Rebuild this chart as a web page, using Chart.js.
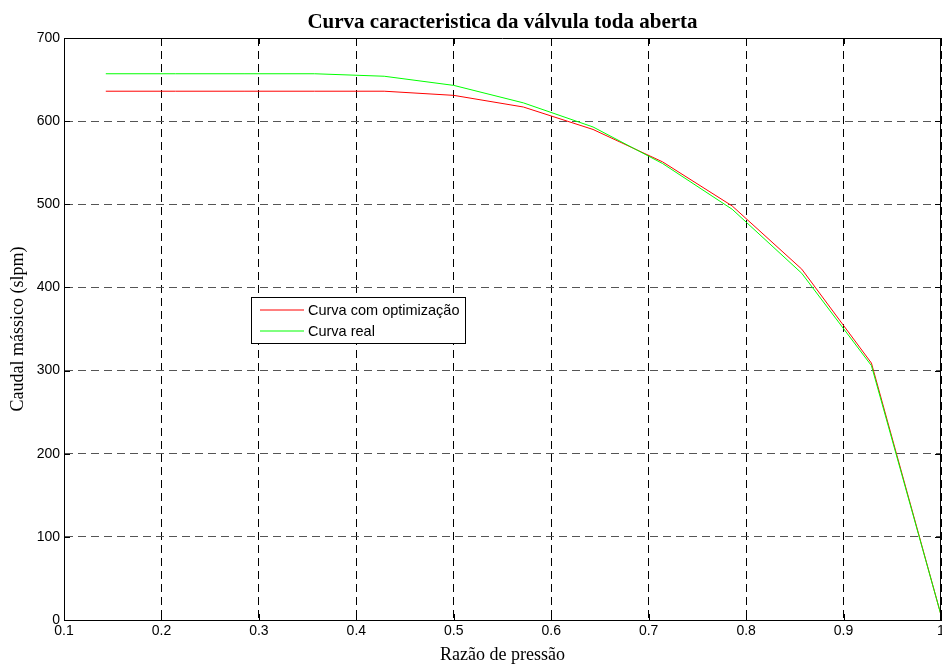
<!DOCTYPE html>
<html lang="pt">
<head>
<meta charset="UTF-8">
<title>Curva caracteristica da válvula toda aberta</title>
<script src="https://cdn.jsdelivr.net/npm/chart.js"></script>
<style>
  body { margin: 0; background: #fff; }
  canvas { display: block; }
</style>
</head>
<body>
<canvas id="curva" width="942" height="666"></canvas>
<script>
// razão de pressão (passo de 1/14)
const razao = [0.1429, 0.2143, 0.2857, 0.3571, 0.4286, 0.5, 0.5714, 0.6429, 0.7143, 0.7857, 0.8571, 0.9286, 1.0];
// caudal mássico em slpm
const curvaOptimizacao = [636, 636, 636, 636, 636, 631, 617, 590, 551, 498, 422, 309, 6];
const curvaReal        = [657, 657, 657, 657, 654, 643, 622, 593, 549, 494, 417, 306, 6];
const xTicks = [0.1, 0.2, 0.3, 0.4, 0.5, 0.6, 0.7, 0.8, 0.9, 1];
const yTicks = [0, 100, 200, 300, 400, 500, 600, 700];
const titulo = 'Curva caracteristica da válvula toda aberta';

const pontos = ys => razao.map((x, i) => ({ x: x, y: ys[i] }));

// título centrado sobre a área do gráfico
const tituloGrafico = {
  id: 'tituloGrafico',
  afterDraw(chart) {
    const { ctx, chartArea: a } = chart;
    ctx.save();
    ctx.fillStyle = '#000';
    ctx.font = 'bold 21px "Liberation Serif"';
    ctx.textAlign = 'center';
    ctx.textBaseline = 'alphabetic';
    ctx.fillText(titulo, (a.left + a.right) / 2, 28);
    ctx.restore();
  }
};

// legenda no meio do gráfico
const legendaBox = {
  id: 'legendaBox',
  afterDatasetsDraw(chart) {
    const ctx = chart.ctx;
    const x = 251, y = 297, w = 214, h = 46;
    ctx.save();
    ctx.fillStyle = '#fff';
    ctx.fillRect(x, y, w, h);
    ctx.strokeStyle = '#000';
    ctx.lineWidth = 1;
    ctx.strokeRect(x + 0.5, y + 0.5, w, h);
    ctx.font = '14.5px "Liberation Sans"';
    ctx.textBaseline = 'middle';
    chart.data.datasets.forEach((ds, i) => {
      const ly = y + 13 + i * 21;
      ctx.strokeStyle = ds.borderColor;
      ctx.beginPath();
      ctx.moveTo(x + 9, ly);
      ctx.lineTo(x + 53, ly);
      ctx.stroke();
      ctx.fillStyle = '#000';
      ctx.fillText(ds.label, x + 57, ly + 1);
    });
    ctx.restore();
  }
};

// moldura completa e marcas para dentro
const moldura = {
  id: 'moldura',
  afterDraw(chart) {
    const { ctx, chartArea: a, scales } = chart;
    const t = 6;
    ctx.save();
    ctx.strokeStyle = '#000';
    ctx.lineWidth = 1;
    ctx.beginPath();
    ctx.moveTo(a.left, a.top + 0.5);
    ctx.lineTo(a.right, a.top + 0.5);
    ctx.moveTo(a.right - 0.5, a.top);
    ctx.lineTo(a.right - 0.5, a.bottom);
    scales.x.ticks.forEach(tk => {
      const px = Math.round(scales.x.getPixelForValue(tk.value)) + 0.5;
      ctx.moveTo(px, a.bottom); ctx.lineTo(px, a.bottom - t);
      ctx.moveTo(px, a.top); ctx.lineTo(px, a.top + t);
    });
    scales.y.ticks.forEach(tk => {
      const py = Math.round(scales.y.getPixelForValue(tk.value)) + 0.5;
      ctx.moveTo(a.left, py); ctx.lineTo(a.left + t, py);
      ctx.moveTo(a.right, py); ctx.lineTo(a.right - t, py);
    });
    ctx.stroke();
    ctx.restore();
  }
};

new Chart(document.getElementById('curva'), {
  type: 'line',
  data: {
    datasets: [
      { label: 'Curva com optimização', data: pontos(curvaOptimizacao), borderColor: '#ff0000', order: 1 },
      { label: 'Curva real', data: pontos(curvaReal), borderColor: '#00ff00', order: 0 }
    ]
  },
  options: {
    responsive: false,
    animation: false,
    devicePixelRatio: 1,
    layout: { padding: { top: 38, left: 0, right: 1, bottom: 0 } },
    elements: {
      line: { borderWidth: 1, tension: 0, fill: false },
      point: { radius: 0, hoverRadius: 0 }
    },
    plugins: {
      legend: { display: false },
      tooltip: { enabled: false },
      title: { display: false }
    },
    scales: {
      x: {
        type: 'linear',
        min: 0.1,
        max: 1,
        afterBuildTicks: s => { s.ticks = xTicks.map(v => ({ value: v })); },
        afterFit: s => { s.height = 46; s.paddingLeft = 0; s.paddingRight = 0; },
        ticks: {
          color: '#000',
          padding: 3,
          maxRotation: 0,
          autoSkip: false,
          font: { family: 'Liberation Sans', size: 14 },
          callback: v => String(+v.toFixed(1))
        },
        grid: { color: '#000', lineWidth: 1, drawTicks: false },
        border: { display: true, color: '#000', width: 1, dash: [8, 5] },
        title: {
          display: true,
          text: 'Razão de pressão',
          color: '#000',
          font: { family: 'Liberation Serif', size: 18 },
          padding: { top: 0, bottom: 0 }
        }
      },
      y: {
        min: 0,
        max: 700,
        afterBuildTicks: s => { s.ticks = yTicks.map(v => ({ value: v })); },
        afterFit: s => { s.width = 64; s.paddingTop = 0; s.paddingBottom = 0; },
        ticks: {
          color: '#000',
          padding: 4,
          font: { family: 'Liberation Sans', size: 14 }
        },
        grid: { color: '#555', lineWidth: 1, drawTicks: false },
        border: { display: true, color: '#000', width: 1, dash: [8, 5] },
        title: {
          display: true,
          text: 'Caudal mássico (slpm)',
          color: '#000',
          font: { family: 'Liberation Serif', size: 18 },
          padding: { top: 7, bottom: 0 }
        }
      }
    }
  },
  plugins: [legendaBox, moldura, tituloGrafico]
});
</script>
</body>
</html>
